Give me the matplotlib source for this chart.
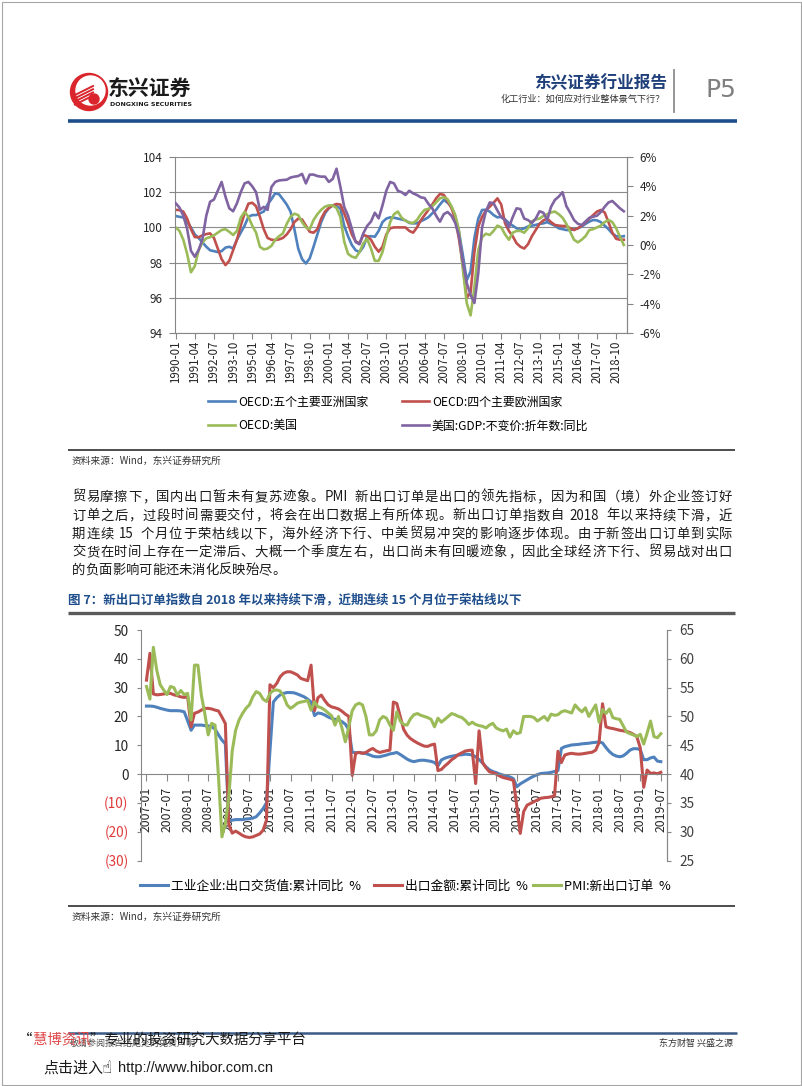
import re
import numpy as np
import pandas as pd
import matplotlib
matplotlib.use('Agg')
import matplotlib.pyplot as plt
from matplotlib.patches import Circle, Rectangle
from matplotlib.font_manager import FontProperties

# ---------------- chart 1: OECD leading indicators vs US GDP (quarterly samples) ----------------
oecd_dates = pd.date_range('1990-01-01', '2019-04-01', freq='QS-JAN')
asia5 = [100.65, 100.6, 100.57, 100.3, 100.0, 99.6, 99.4, 99.15, 98.9, 98.7,
         98.65, 98.6, 98.65, 98.85, 98.9, 98.8, 99.3, 99.7, 100.1, 100.6,
         100.7, 100.7, 100.8, 100.9, 101.3, 101.6, 101.94, 101.88, 101.6, 101.3,
         100.9, 99.9, 98.8, 98.2, 97.95, 98.24, 98.9, 99.6, 100.3, 100.8,
         101.1, 101.25, 101.2, 101.08, 100.1, 99.5, 99.0, 98.7, 98.6, 98.9,
         99.47, 99.5, 99.47, 99.8, 100.3, 100.5, 100.57, 100.55, 100.5,
         100.45, 100.4, 100.25, 100.23, 100.23, 100.35, 100.45, 100.58, 100.8, 101.0,
         101.3, 101.56, 101.4, 101.18, 100.6, 99.7, 98.4, 97.0, 97.5, 99.4,
         100.5, 100.99, 101.0, 100.9, 100.7, 100.57, 100.6, 100.45, 100.25, 100.1,
         99.95, 99.87, 99.95, 100.05, 100.1, 100.14, 100.2, 100.23, 100.3, 100.2,
         100.1, 99.95, 99.9, 99.85, 99.85, 99.9, 99.95, 100.05, 100.2, 100.33,
         100.42, 100.4, 100.3, 100.1, 99.9, 99.65, 99.5, 99.47, 99.5]
europe4 = [101.0, 100.98, 100.9, 100.5, 99.9, 99.45, 99.44, 99.55, 99.62, 99.66,
           99.4, 98.8, 98.2, 97.86, 98.1, 98.7, 99.3, 100.1, 100.8, 101.35,
           101.4, 101.2, 100.6, 99.9, 99.4, 99.3, 99.28, 99.32, 99.4, 99.6,
           99.9, 100.3, 100.5, 100.45, 100.1, 99.75, 99.7, 99.9, 100.5, 100.9,
           101.1, 101.25, 101.33, 101.3, 100.8, 100.23, 99.6, 99.2, 99.1, 99.57,
           99.5, 99.3, 98.9, 98.62, 98.9, 99.6, 99.95, 100.0, 100.0,
           100.0, 100.0, 99.8, 99.7, 100.0, 100.4, 100.7, 101.0, 101.3, 101.65,
           101.9, 101.85, 101.5, 101.1, 100.5, 99.3, 97.8, 96.0, 96.3, 98.6,
           100.04, 100.6, 100.95, 101.18, 101.4, 101.65, 101.3, 100.23, 99.8, 99.5,
           99.1, 98.9, 98.8, 99.05, 99.5, 99.85, 100.2, 100.4, 100.5, 100.3,
           100.14, 100.1, 100.08, 100.08, 99.95, 99.85, 99.95, 100.1, 100.3, 100.5,
           100.7, 100.9, 100.99, 100.85, 100.3, 99.7, 99.35, 99.3, 99.3]
usa_cli = [100.0, 99.8, 99.3, 98.5, 97.45, 97.8, 98.7, 99.15, 99.38, 99.45,
           99.55, 99.7, 99.85, 99.9, 99.75, 99.57, 99.8, 100.55, 100.88, 100.6,
           100.1, 99.7, 98.9, 98.75, 98.8, 98.95, 99.3, 99.5, 99.66, 100.2,
           100.6, 100.78, 100.7, 100.3, 100.0, 99.9, 100.42, 100.75, 101.0, 101.18,
           101.25, 101.25, 101.1, 100.6, 99.2, 98.5, 98.34, 98.27, 98.6, 99.1,
           99.35, 98.8, 98.1, 98.1, 98.6, 99.47, 100.3, 100.75, 100.9,
           100.55, 100.38, 100.28, 100.25, 100.42, 100.75, 101.0, 101.05, 101.2, 101.42,
           101.65, 101.72, 101.6, 101.2, 100.7, 99.8, 97.6, 95.7, 95.0, 96.6,
           98.7, 99.45, 99.64, 99.57, 99.8, 100.1, 100.0, 99.6, 99.3, 99.7,
           99.8, 99.8, 99.7, 99.95, 100.35, 100.45, 100.5, 100.65, 100.75, 100.85,
           100.9, 100.75, 100.55, 100.2, 99.75, 99.3, 99.15, 99.3, 99.5, 99.85,
           99.9, 100.0, 100.1, 100.3, 100.42, 100.3, 99.95, 99.47, 99.0]
us_gdp_yoy = [2.85, 2.55, 2.0, 1.1, -0.4, -0.8, -0.34, 0.4, 2.0, 2.95,
              3.1, 3.7, 4.3, 3.3, 2.5, 2.3, 2.84, 3.6, 4.2, 4.3,
              4.0, 3.6, 2.4, 2.6, 2.39, 3.95, 4.3, 4.4, 4.43, 4.45,
              4.6, 4.66, 4.7, 4.85, 4.2, 4.8, 4.8, 4.7, 4.66, 4.66,
              4.3, 4.5, 5.2, 3.98, 2.6, 2.0, 1.1, 0.2, 0.05, 0.8,
              1.3, 1.6, 2.2, 1.82, 2.7, 3.7, 4.3, 4.2, 3.7,
              3.6, 3.41, 3.7, 3.52, 3.41, 3.25, 3.2, 2.8, 2.5, 2.0,
              1.59, 2.1, 2.25, 2.0, 1.5, 0.6, -1.2, -2.6, -3.4, -3.95,
              -1.93, 1.2, 2.3, 2.9, 2.85, 2.35, 1.9, 1.7, 1.2, 1.9,
              2.5, 2.45, 1.8, 1.7, 1.5, 1.8, 2.3, 2.2, 1.7, 2.6,
              3.07, 3.3, 3.6, 2.65, 2.2, 1.7, 1.45, 1.36, 1.6, 1.85,
              1.93, 2.0, 2.25, 2.6, 2.9, 3.0, 2.75, 2.5, 2.3]
ticks1 = [d.strftime('%Y-%m') for d in pd.date_range('1990-01-01', '2018-10-01', freq='15MS')]

# ---------------- chart 2: export indicators (monthly, 2007-01 .. 2019-07) ----------------
export_dates = pd.date_range('2007-01-01', '2019-07-01', freq='MS')
ind_export = [23.6, 23.6, 23.5, 23.2, 22.8, 22.5, 22.2, 22.0, 22.0, 22.0, 21.9, 21.6,
              18.5, 15.2, 17.0, 17.0, 17.0, 16.8, 16.7, 16.5, 15.6, 13.6, 11.8, 10.5,
              -16.3, -16.0, -15.8, -15.8, -15.8, -15.6, -15.5, -15.3, -14.8, -13.5, -12.0, -10.0,
              8.0, 25.0, 26.5, 27.5, 28.0, 28.3, 28.3, 28.2, 27.8, 27.3, 26.8, 26.0,
              25.0, 20.3, 21.2, 21.0, 20.5, 19.8, 19.3, 19.0, 18.8, 18.2, 17.3, 15.5,
              7.6, 7.4, 7.5, 7.3, 7.1, 6.7, 6.2, 6.0, 6.0, 6.3, 6.6, 7.0,
              7.2, 7.5, 6.8, 6.0, 5.2, 4.6, 4.3, 4.6, 4.8, 4.8, 4.6, 4.4,
              4.0, 2.8, 4.9, 5.5, 5.9, 6.2, 6.4, 6.6, 6.7, 6.9, 6.8, 6.6,
              6.0, 5.0, 3.9, 2.5, 1.5, 0.9, 0.5, 0.0, -0.35, -0.7, -1.0, -1.6,
              -4.4, -3.4, -2.7, -2.0, -1.3, -0.7, -0.2, 0.2, 0.3, 0.4, 0.6, 0.9,
              1.2, 8.9, 9.5, 9.8, 10.1, 10.2, 10.3, 10.5, 10.6, 10.7, 10.9, 11.0,
              11.2, 10.8, 9.2, 7.8, 6.8, 6.25, 6.0, 6.3, 7.2, 8.3, 8.8, 8.8,
              8.5, 5.0, 5.0, 5.6, 5.9, 4.5, 4.3]
export_value = [32.6, 41.9, 27.8, 27.5, 27.6, 27.8, 28.0, 28.0, 27.5, 27.2, 26.8, 26.6,
                26.9, 16.4, 21.1, 21.5, 22.2, 22.8, 22.8, 22.6, 22.2, 21.9, 19.8, 17.5,
                -17.5, -20.5, -19.8, -20.5, -21.3, -21.8, -22.0, -21.8, -21.3, -20.8, -19.5, -16.0,
                31.0, 30.0, 31.5, 33.8, 35.0, 35.5, 35.5, 35.0, 34.4, 33.2, 32.8, 32.4,
                37.8, 22.0, 26.5, 27.4, 25.5, 24.0, 23.3, 23.0, 22.6, 21.8, 20.8, 20.0,
                -0.5, 7.2, 7.5, 7.2, 7.5, 8.3, 8.9, 8.0, 7.5, 7.8, 8.1, 8.3,
                25.0, 24.5, 20.0, 15.5, 13.5, 12.3, 11.5, 10.8, 10.2, 9.7, 9.6, 10.1,
                10.4, 1.2, 1.6, 2.8, 3.8, 5.0, 5.8, 6.8, 7.4, 8.0, 8.2, 8.3,
                -3.3, 15.0, 4.0, 2.2, 0.8, 0.5, 0.0, -0.7, -1.2, -1.5, -1.8, -2.2,
                -11.2, -20.6, -13.0, -10.8, -10.2, -9.6, -9.0, -8.4, -8.2, -8.1, -7.9, -7.5,
                7.9, 4.0, 6.6, 7.0, 7.2, 7.0, 6.9, 7.0, 7.2, 7.4, 7.6, 8.3,
                11.0, 24.4, 16.4, 16.0, 15.8, 15.5, 15.2, 15.0, 14.8, 14.4, 13.8, 13.0,
                9.1, -4.6, 1.4, 0.2, 0.4, 0.1, 0.6]
pmi_export = [55.2, 53.0, 62.0, 58.0, 55.5, 54.6, 53.8, 55.2, 55.0, 53.7, 54.5, 53.8,
              54.0, 49.4, 58.9, 58.9, 53.7, 50.5, 46.8, 48.8, 48.5, 39.5, 29.1, 31.4,
              36.0, 44.0, 47.6, 49.4, 50.5, 51.4, 52.0, 53.4, 54.3, 54.0, 53.0, 52.6,
              54.0, 54.5, 54.6, 54.4, 53.5, 52.0, 51.4, 51.8, 52.3, 52.5, 52.6, 52.8,
              51.1, 52.5, 51.7, 51.5, 51.1, 50.6, 50.1, 48.5, 50.0, 48.0, 45.6, 48.2,
              51.0, 52.0, 52.3, 52.0, 50.0, 46.8, 46.8, 47.5, 49.4, 50.0, 49.7, 48.5,
              47.6, 50.8, 49.2, 48.6, 48.5, 49.6, 50.3, 50.5, 50.2, 50.0, 49.8, 49.5,
              48.2, 49.7, 49.0, 49.5, 50.0, 50.5, 50.3, 50.0, 49.8, 49.3, 48.6, 49.0,
              48.6, 48.4, 48.3, 48.0, 48.5, 48.8, 48.0, 47.7, 47.5, 47.8, 46.4, 47.5,
              47.0, 47.2, 50.0, 50.0, 50.0, 49.8, 49.2, 49.6, 50.0, 49.3, 50.4, 50.2,
              50.3, 50.8, 51.0, 50.8, 50.6, 52.0, 51.3, 50.8, 51.5, 50.0, 51.0, 52.0,
              49.0, 51.2, 50.5, 51.3, 49.8, 49.6, 49.5, 48.4, 47.3, 47.0, 46.8, 46.5,
              46.9, 45.2, 47.1, 49.2, 46.5, 46.3, 47.0]
ticks2 = [d.strftime('%Y-%m') for d in pd.date_range('2007-01-01', '2019-07-01', freq='6MS')]

paragraph = [
    '贸易摩擦下，国内出口暂未有复苏迹象。PMI 新出口订单是出口的领先指标，因为和国（境）外企业签订好',
    '订单之后，过段时间需要交付，将会在出口数据上有所体现。新出口订单指数自 2018 年以来持续下滑，近',
    '期连续 15 个月位于荣枯线以下，海外经济下行、中美贸易冲突的影响逐步体现。由于新签出口订单到实际',
    '交货在时间上存在一定滞后、大概一个季度左右，出口尚未有回暖迹象，因此全球经济下行、贸易战对出口',
    '的负面影响可能还未消化反映殆尽。',
]

plt.rcParams['font.family'] = ['Noto Sans CJK SC', 'DejaVu Sans']
W, H = 802, 1086
fig = plt.figure(figsize=(W / 100, H / 100), dpi=100)

# page layer in pixel coordinates
page = fig.add_axes([0, 0, 1, 1])
page.set_xlim(0, W)
page.set_ylim(H, 0)
page.axis('off')


def px_axes(x0, y0, x1, y1):
    return fig.add_axes([x0 / W, 1 - y1 / H, (x1 - x0) / W, (y1 - y0) / H])


def hline(x0, x1, y, color, lw):
    page.plot([x0, x1], [y, y], color=color, lw=lw, solid_capstyle='butt')


def legend_entry(handle, x, y, fs, hl):
    fig.legend([handle], [handle.get_label()], loc='center left',
               bbox_to_anchor=(x / W, 1 - y / H), frameon=False, fontsize=fs,
               handlelength=hl, handletextpad=0.2, borderaxespad=0, borderpad=0)


# border
page.add_patch(Rectangle((1.5, 1.5), W - 3, H - 3, fill=False, ec='#A6A6A6', lw=0.8))

# ---- header ----
page.add_patch(Circle((89, 92), 18.5, color='#D9252B'))
page.add_patch(Circle((90.5, 90.5), 14.5, color='white'))
for k in range(4):
    page.plot([75, 93], [95 + k * 3.2, 86 + k * 3.2], color='#D9252B', lw=1.4)
page.add_patch(Circle((94, 99), 5, color='#D9252B'))
page.text(108, 88, '东兴证券', fontsize=15, weight='bold', va='center', ha='left', color='#1a1a1a')
page.text(110, 104, 'DONGXING SECURITIES', fontsize=4.5, weight='bold', family='DejaVu Sans',
          va='center', ha='left', color='#1a1a1a')
page.text(667, 83, '东兴证券行业报告', fontsize=12, weight='bold', color='#1F3F7A', ha='right', va='center')
page.text(665, 99, '化工行业：如何应对行业整体景气下行？', fontsize=6.6, color='#333333', ha='right', va='center')
page.plot([674, 674], [70, 112], color='#8C8C8C', lw=1.3)
page.text(705, 90, 'P5', fontsize=18, color='#7F7F7F', ha='left', va='center', family='DejaVu Sans')
hline(68, 737, 121, '#1F4E8C', 2.6)

# ---- chart 1 ----
m1 = np.array([(d.year - 1990) * 12 + d.month - 1 for d in oecd_dates])
ax1 = px_axes(175, 157, 627, 333)
ax1.set_facecolor('none')
l_asia, = ax1.plot(m1, asia5, color='#4F81BD', lw=1.9, label='OECD:五个主要亚洲国家')
l_eur, = ax1.plot(m1, europe4, color='#C0504D', lw=1.9, label='OECD:四个主要欧洲国家')
l_us, = ax1.plot(m1, usa_cli, color='#9BBB59', lw=1.9, label='OECD:美国')
ax1r = ax1.twinx()
l_gdp, = ax1r.plot(m1, us_gdp_yoy, color='#8064A2', lw=1.9, label='美国:GDP:不变价:折年数:同比')
ax1.set_xlim(-0.5, 353.5)
ax1.set_ylim(94, 104)
ax1r.set_ylim(-6, 6)
ax1.set_yticks(np.arange(94, 105, 2))
ax1r.set_yticks(np.arange(-6, 7, 2), [f'{v}%' for v in range(-6, 7, 2)])
tick_pos1 = [(int(t[:4]) - 1990) * 12 + int(t[5:]) - 1 for t in ticks1]
ax1.set_xticks(tick_pos1, ticks1)
ax1.yaxis.grid(True, color='#8C8C8C', lw=0.8)
ax1.set_axisbelow(True)
for a in (ax1, ax1r):
    for s in a.spines.values():
        s.set_color('#868686')
        s.set_linewidth(0.8)
    a.spines['top'].set_visible(False)
ax1r.spines['left'].set_visible(False)
ax1r.spines['bottom'].set_visible(False)
ax1.tick_params(axis='x', length=4, width=0.8, color='#868686', pad=1.5, labelsize=8.3,
                labelrotation=90, labelcolor='#262626')
ax1.tick_params(axis='y', length=4, width=0.8, color='#868686', pad=5, labelsize=8.5, labelcolor='#262626')
ax1r.tick_params(axis='y', length=4, width=0.8, color='#868686', pad=5, labelsize=8.5, labelcolor='#262626')
legend_entry(l_asia, 208, 402, 8.6, 2.3)
legend_entry(l_eur, 402, 402, 8.6, 2.3)
legend_entry(l_us, 208, 426, 8.6, 2.3)
legend_entry(l_gdp, 402, 426, 8.6, 2.3)
hline(68, 735, 450, '#3F3F3F', 1.3)

# ---- text block ----
renderer = fig.canvas.get_renderer()
src_kw = dict(fontsize=7, style='italic', color='#333333', va='center', ha='left')
page.text(72, 461, '资料来源：Wind，东兴证券研究所', **src_kw)

fs_body = 9.6
body_prop = FontProperties(family=['Noto Sans CJK SC', 'DejaVu Sans'], size=fs_body)
em = fs_body * 100 / 72


def place_line(y, text, x0, x1, justify):
    tokens = re.findall(r'[A-Za-z0-9]+|.', text)
    widths = []
    for t in tokens:
        if t == ' ':
            widths.append(em * 0.3)
        elif ord(t[0]) >= 0x2E80:
            widths.append(em)
        else:
            widths.append(renderer.get_text_width_height_descent(t, body_prop, ismath=False)[0] + 1.5)
    gap = (x1 - x0 - sum(widths)) / (len(tokens) - 1) if justify else 0
    x = x0
    for t, w in zip(tokens, widths):
        if t != ' ':
            page.text(x, y, t, fontproperties=body_prop, va='center', ha='left', color='#1a1a1a')
        x += w + gap


line_y = [497, 515.5, 534, 552, 570]
for i, (yy, txt) in enumerate(zip(line_y, paragraph)):
    place_line(yy, txt, 72, 732, i < len(paragraph) - 1)

page.text(68, 600, '图 7：新出口订单指数自 2018 年以来持续下滑，近期连续 15 个月位于荣枯线以下',
          fontsize=9, weight='bold', color='#1F4E8C', va='center', ha='left')
hline(68, 735, 613, '#5A5A5A', 2.4)

# ---- chart 2 ----
m2 = np.arange(len(export_dates))
ax2 = px_axes(141, 630, 667, 860.5)
ax2.set_facecolor('none')
l_ind, = ax2.plot(m2, ind_export, color='#4F81BD', lw=2.2, label='工业企业:出口交货值:累计同比  %')
l_val, = ax2.plot(m2, export_value, color='#C0504D', lw=2.2, label='出口金额:累计同比  %')
ax2r = ax2.twinx()
l_pmi, = ax2r.plot(m2, pmi_export, color='#9BBB59', lw=2.2, label='PMI:新出口订单  %')
ax2.set_xlim(-1.6, 151.8)
ax2.set_ylim(-30, 50)
ax2r.set_ylim(25, 65)
yt2 = list(range(-30, 51, 10))
ax2.set_yticks(yt2, [f'({-v})' if v < 0 else str(v) for v in yt2])
for lab, v in zip(ax2.get_yticklabels(), yt2):
    lab.set_color('#E03A3A' if v < 0 else '#262626')
ax2r.set_yticks(range(25, 66, 5))
tick_pos2 = [(int(t[:4]) - 2007) * 12 + int(t[5:]) - 1 for t in ticks2]
ax2.set_xticks(tick_pos2, ticks2)
ax2.spines['bottom'].set_position(('data', 0))
for a in (ax2, ax2r):
    for s in a.spines.values():
        s.set_color('#868686')
        s.set_linewidth(0.8)
    a.spines['top'].set_visible(False)
ax2r.spines['left'].set_visible(False)
ax2r.spines['bottom'].set_visible(False)
ax2.tick_params(axis='x', length=5, width=0.8, color='#868686', pad=4, labelsize=8.8,
                labelrotation=90, labelcolor='#262626')
ax2.tick_params(axis='y', length=3, width=0.8, color='#868686', pad=6, labelsize=9.8)
ax2r.tick_params(axis='y', length=3, width=0.8, color='#868686', pad=6, labelsize=9.8, labelcolor='#404040')
legend_entry(l_ind, 140, 886, 9.2, 2.2)
legend_entry(l_val, 374, 886, 9.2, 2.2)
legend_entry(l_pmi, 533, 886, 9.2, 2.2)
hline(68, 735, 906, '#3F3F3F', 1.3)
page.text(72, 917, '资料来源：Wind，东兴证券研究所', **src_kw)

# ---- footer ----
hline(68, 737, 1033, '#3B5A85', 1.8)
page.text(70, 1043, '敬请参阅报告结尾处的免责声明', fontsize=6.5, color='#555555', va='center', ha='left')
page.text(733, 1043, '东方财智 兴盛之源', fontsize=6.5, color='#333333', va='center', ha='right')
wm_prop = FontProperties(family=['Noto Sans CJK SC', 'DejaVu Sans'], size=10.4)
page.text(18, 1040, '“\u3000\u3000\u3000\u3000”专业的投资研究大数据分享平台', fontproperties=wm_prop,
          color='#1a1a1a', va='center', ha='left')
w_q = renderer.get_text_width_height_descent('“慧', wm_prop, ismath=False)[0]
w_h = renderer.get_text_width_height_descent('慧', wm_prop, ismath=False)[0]
page.text(18 + w_q - w_h, 1040, '慧博资讯', fontproperties=wm_prop, color='#E04848', va='center', ha='left')
page.text(43, 1068, '点击进入', fontsize=10.8, color='#1a1a1a', va='center', ha='left')
page.text(102, 1068, '☝', fontsize=12, family='DejaVu Sans', color='#1a1a1a', va='center', ha='left')
page.text(118, 1068, 'http://www.hibor.com.cn', fontsize=10.5, family='Liberation Sans',
          color='#1a1a1a', va='center', ha='left')

fig.savefig('out.png', dpi=100)
